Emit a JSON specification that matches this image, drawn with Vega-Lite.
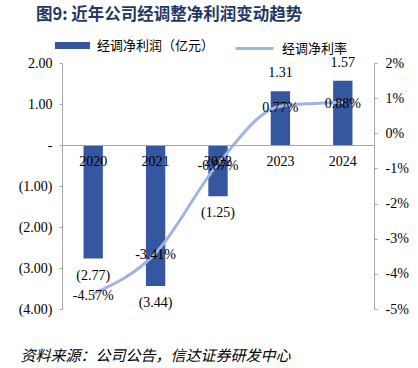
{
  "$schema": "https://vega.github.io/schema/vega-lite/v6.json",
  "width": 312,
  "height": 246,
  "autosize": {"type": "none"},
  "padding": {"left": 62, "right": 44, "top": 63, "bottom": 59},
  "background": "white",
  "title": {
    "text": "图9: 近年公司经调整净利润变动趋势",
    "anchor": "start",
    "frame": "group",
    "dx": -26,
    "dy": 7,
    "font": "Noto Sans CJK SC",
    "fontSize": 16.5,
    "fontWeight": "bold",
    "color": "#1f3864",
    "offset": 12
  },
  "config": {
    "view": {"stroke": null},
    "font": "Liberation Serif",
    "locale": {"number": {"decimal": ".", "thousands": ",", "grouping": [3], "currency": ["$", ""], "minus": "-"}}
  },
  "data": {
    "values": [
      {"year": "2020", "profit": -2.77, "rate": -0.0457},
      {"year": "2021", "profit": -3.44, "rate": -0.0341},
      {"year": "2022", "profit": -1.25, "rate": -0.0087},
      {"year": "2023", "profit": 1.31, "rate": 0.0077},
      {"year": "2024", "profit": 1.57, "rate": 0.0088}
    ]
  },
  "layer": [
    {
      "layer": [
        {
          "mark": {"type": "bar", "width": {"band": 0.31}},
          "encoding": {
            "fill": {
              "datum": "经调净利润（亿元）",
              "type": "nominal",
              "scale": {"range": ["#3557a0"]},
              "legend": {
                "title": null,
                "orient": "none",
                "legendX": -7,
                "legendY": -35,
                "symbolType": "M-1,-0.2H1V0.2H-1Z",
                "symbolSize": 1225,
                "symbolStrokeWidth": 0,
                "labelFont": "Noto Sans CJK SC",
                "labelFontSize": 13,
                "labelColor": "#000000",
                "labelOffset": 7
              }
            }
          }
        },
        {
          "transform": [{"filter": "datum.profit < 0"}],
          "mark": {"type": "text", "baseline": "middle", "dy": 17, "fontSize": 14, "color": "#000000"},
          "encoding": {"text": {"field": "profit", "type": "quantitative", "format": "(.2f"}}
        },
        {
          "transform": [{"filter": "datum.profit >= 0"}],
          "mark": {"type": "text", "baseline": "middle", "dy": -18, "fontSize": 14, "color": "#000000"},
          "encoding": {"text": {"field": "profit", "type": "quantitative", "format": "(.2f"}}
        }
      ],
      "encoding": {
        "x": {
          "field": "year",
          "type": "nominal",
          "scale": {"paddingInner": 0, "paddingOuter": 0},
          "axis": {
            "orient": "bottom",
            "offset": -164,
            "zindex": 1,
            "title": null,
            "ticks": false,
            "labelAngle": 0,
            "labelFontSize": 14,
            "labelColor": "#000000",
            "labelPadding": 9,
            "domainColor": "#a6a6a6",
            "domainWidth": 1
          }
        },
        "y": {
          "field": "profit",
          "type": "quantitative",
          "scale": {"domain": [-4, 2], "nice": false, "zero": false},
          "axis": {
            "orient": "left",
            "title": null,
            "grid": false,
            "values": [-4, -3, -2, -1, 0, 1, 2],
            "labelExpr": "datum.value == 0 ? '-   ' : (datum.value > 0 ? format(datum.value, '.2f') + ' ' : format(datum.value, '(.2f'))",
            "labelFontSize": 14,
            "labelColor": "#000000",
            "labelPadding": 7,
            "tickSize": 3,
            "tickColor": "#a6a6a6",
            "domainColor": "#a6a6a6"
          }
        }
      }
    },
    {
      "layer": [
        {
          "mark": {"type": "line", "interpolate": "monotone", "strokeWidth": 3},
          "encoding": {
            "stroke": {
              "datum": "经调净利率",
              "type": "nominal",
              "scale": {"range": ["#9fb4e0"]},
              "legend": {
                "title": null,
                "orient": "none",
                "legendX": 172,
                "legendY": -35,
                "symbolType": "M-1,0H1",
                "symbolSize": 1444,
                "symbolStrokeWidth": 3,
                "labelFont": "Noto Sans CJK SC",
                "labelFontSize": 13,
                "labelColor": "#000000",
                "labelOffset": 7
              }
            }
          }
        },
        {
          "mark": {"type": "text", "baseline": "middle", "dy": 2, "fontSize": 14, "color": "#000000"},
          "encoding": {"text": {"field": "rate", "type": "quantitative", "format": ".2%"}}
        }
      ],
      "encoding": {
        "x": {
          "field": "year",
          "type": "nominal",
          "axis": {
            "orient": "bottom",
            "labels": false,
            "ticks": false,
            "domain": false,
            "title": "资料来源：公司公告，信达证券研发中心",
            "titleFont": "Noto Sans CJK SC",
            "titleFontStyle": "italic",
            "titleFontWeight": "normal",
            "titleFontSize": 15,
            "titleColor": "#000000",
            "titleAnchor": "start",
            "titleAlign": "left",
            "titleBaseline": "middle",
            "titleX": -42,
            "titleY": 46
          }
        },
        "y": {
          "field": "rate",
          "type": "quantitative",
          "scale": {"domain": [-0.05, 0.02], "nice": false, "zero": false},
          "axis": {
            "orient": "right",
            "title": null,
            "grid": false,
            "values": [-0.05, -0.04, -0.03, -0.02, -0.01, 0, 0.01, 0.02],
            "labelExpr": "round(datum.value * 100) + '%'",
            "labelFontSize": 14,
            "labelColor": "#000000",
            "labelPadding": 8,
            "tickSize": 3,
            "tickColor": "#a6a6a6",
            "domainColor": "#a6a6a6"
          }
        }
      }
    }
  ],
  "resolve": {"scale": {"y": "independent", "fill": "independent", "stroke": "independent"}, "axis": {"x": "independent", "y": "independent"}}
}
